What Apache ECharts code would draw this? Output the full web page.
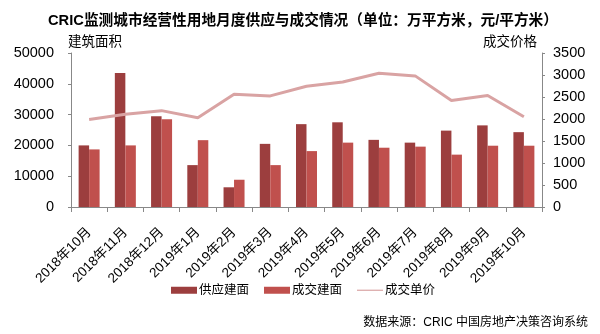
<!DOCTYPE html>
<html><head><meta charset="utf-8">
<script src="https://cdn.jsdelivr.net/npm/echarts@6/dist/echarts.min.js"></script>
<style>html,body{margin:0;padding:0;background:#fff}#c{width:600px;height:334px}</style>
</head><body><div id="c"></div>
<script>
var categories = ['2018年10月','2018年11月','2018年12月','2019年1月','2019年2月','2019年3月','2019年4月','2019年5月','2019年6月','2019年7月','2019年8月','2019年9月','2019年10月'];
var supplyArea = [20000,43500,29500,13600,6400,20500,26900,27500,21800,20900,24800,26500,24300];
var dealArea = [18700,20000,28500,21700,8850,13600,18150,20900,19250,19600,17000,19900,19900];
var dealPrice = [1990,2110,2190,2030,2560,2525,2745,2840,3040,2980,2420,2535,2050];

var chart = echarts.init(document.getElementById('c'));
var font = 'Liberation Sans, Arial, Noto Sans CJK SC, sans-serif';
chart.setOption({
  animation:false,
  textStyle:{fontFamily:font},
  title:{text:'CRIC监测城市经营性用地月度供应与成交情况（单位：万平方米，元/平方米）',left:298,textAlign:'center',top:9,
    textStyle:{fontSize:14.7,fontWeight:'bold',color:'#000',fontFamily:font}},
  grid:{left:71,right:58,top:53,bottom:127},
  legend:{top:279,left:166,itemWidth:26,itemHeight:7,itemGap:15,textStyle:{fontSize:12.5,color:'#000',padding:[0,0,0,-3]},
    data:[{name:'供应建面',icon:'rect'},{name:'成交建面',icon:'rect'},{name:'成交单价',icon:'path://M0,0H26V1.2H0Z'}]},
  graphic:[{type:'text',right:12,bottom:5,style:{text:'数据来源：CRIC 中国房地产决策咨询系统',fontSize:12,fill:'#000',fontFamily:font}}],
  xAxis:{type:'category',data:categories,
    axisLine:{lineStyle:{color:'#888'}},axisTick:{show:true,lineStyle:{color:'#888'}},
    axisLabel:{rotate:45,fontSize:13.5,color:'#000',interval:0,margin:23}},
  yAxis:[
    {type:'value',min:0,max:50000,interval:10000,name:'建筑面积',nameGap:4,nameLocation:'end',
      nameTextStyle:{fontSize:13.5,color:'#000',align:'left',padding:[0,0,0,-3]},
      axisLine:{show:true,lineStyle:{color:'#888'}},axisTick:{show:true,length:3,lineStyle:{color:'#888'}},
      splitLine:{show:false},axisLabel:{fontSize:14.5,color:'#000',margin:17,formatter:function(v){return String(v);}}},
    {type:'value',min:0,max:3500,interval:500,name:'成交价格',nameGap:4,nameLocation:'end',
      nameTextStyle:{fontSize:13.5,color:'#000',align:'right',padding:[0,5,0,0]},
      axisLine:{show:true,lineStyle:{color:'#888'}},axisTick:{show:true,length:3,lineStyle:{color:'#888'}},
      splitLine:{show:false},axisLabel:{fontSize:14.5,color:'#000',margin:11,formatter:function(v){return String(v);}}}
  ],
  series:[
    {name:'供应建面',type:'bar',data:supplyArea,barWidth:10.5,barGap:'0%',itemStyle:{color:'#9C3E3E'}},
    {name:'成交建面',type:'bar',data:dealArea,barWidth:10.5,itemStyle:{color:'#C0504D'}},
    {name:'成交单价',type:'line',yAxisIndex:1,data:dealPrice,symbol:'none',lineStyle:{color:'#D9A3A3',width:3},itemStyle:{color:'#D9A3A3'}}
  ]
});
</script></body></html>
